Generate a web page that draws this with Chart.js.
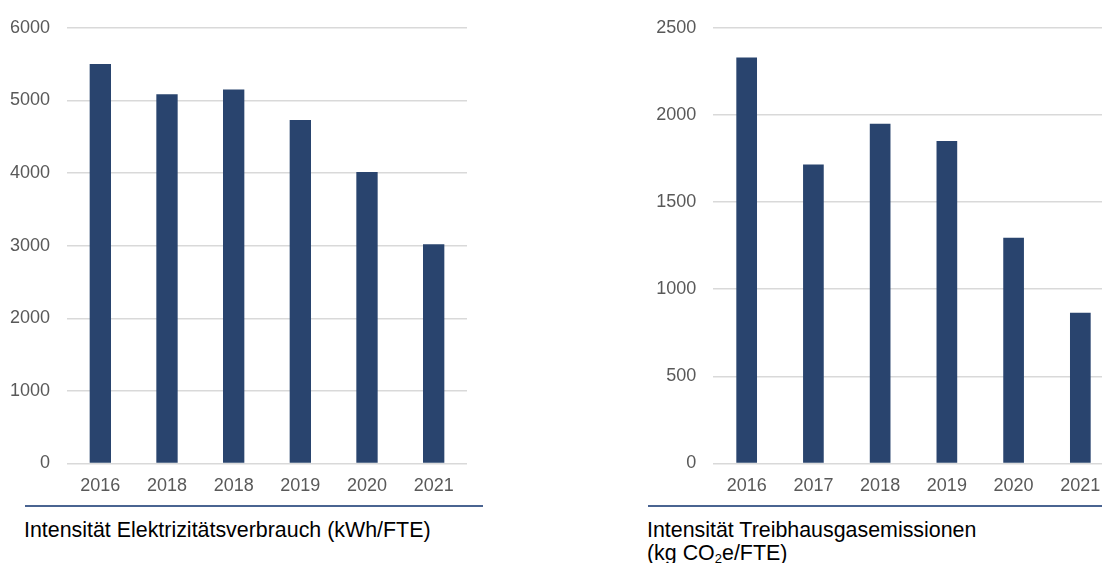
<!DOCTYPE html>
<html>
<head>
<meta charset="utf-8">
<script src="https://cdn.jsdelivr.net/npm/chart.js@4"></script>
<style>
  html, body { margin: 0; padding: 0; background: #ffffff; width: 1102px; height: 563px; overflow: hidden; }
  body { position: relative; font-family: "Liberation Sans", Arial, sans-serif; }
  .panel { position: absolute; top: 0; height: 500px; }
  .rule { position: absolute; height: 2px; background: #4a6491; top: 505px; }
  .caption { position: absolute; top: 519px; font-size: 21.4px; line-height: 23px; color: #000; white-space: nowrap; }
  .caption sub { font-size: 13px; vertical-align: -3px; line-height: 0; }
</style>
</head>
<body>
<div class="panel" style="left:0; width:480px;"><canvas id="elec"></canvas></div>
<div class="panel" style="left:630px; width:500px;"><canvas id="ghg"></canvas></div>

<div class="rule" style="left:25px; width:458px;"></div>
<div class="rule" style="left:648px; width:454px;"></div>

<div class="caption" style="left:24px;">Intensität Elektrizitätsverbrauch (kWh/FTE)</div>
<div class="caption" style="left:647px;">Intensität Treibhausgasemissionen<br>(kg CO<sub>2</sub>e/FTE)</div>

<script>
// Electricity intensity per FTE (kWh)
const elecYears = ["2016", "2018", "2018", "2019", "2020", "2021"];
const elecValues = [5500, 5085, 5150, 4730, 4015, 3020];

// Greenhouse gas intensity per FTE (kg CO2e)
const ghgYears = ["2016", "2017", "2018", "2019", "2020", "2021"];
const ghgValues = [2330, 1715, 1950, 1850, 1295, 865];

const barColor = "#29446e";
const gridColor = "#d9d9d9";
const tickColor = "#595959";
const tickFont = { family: "'Liberation Sans', Arial, sans-serif", size: 18 };

function makeBarChart(canvasId, labels, values, opts) {
  return new Chart(document.getElementById(canvasId), {
    type: "bar",
    data: {
      labels: labels,
      datasets: [{
        data: values,
        backgroundColor: barColor,
        borderWidth: 0,
        categoryPercentage: 1,
        barPercentage: opts.barPct
      }]
    },
    options: {
      responsive: true,
      maintainAspectRatio: false,
      animation: false,
      layout: { padding: { top: 25.5, right: opts.padRight, left: 0, bottom: 0 } },
      plugins: { legend: { display: false }, tooltip: { enabled: false } },
      scales: {
        x: {
          grid: { display: false, drawTicks: false },
          border: { display: false },
          ticks: { color: tickColor, font: tickFont, padding: 12, maxRotation: 0, autoSkip: false },
          afterFit: (s) => { s.height = 36.5; }
        },
        y: {
          min: 0,
          max: opts.max,
          grid: { color: gridColor, lineWidth: 1.5, drawTicks: false },
          border: { display: false },
          ticks: {
            stepSize: opts.step,
            color: tickColor,
            font: tickFont,
            padding: 17,
            callback: (v) => String(v)
          },
          afterFit: (s) => { s.width = opts.axisWidth; }
        }
      }
    }
  });
}

makeBarChart("elec", elecYears, elecValues, { max: 6000, step: 1000, axisWidth: 67, padRight: 13, barPct: 0.32 });
makeBarChart("ghg", ghgYears, ghgValues, { max: 2500, step: 500, axisWidth: 83.3, padRight: 16.3, barPct: 0.31 });
</script>
</body>
</html>
